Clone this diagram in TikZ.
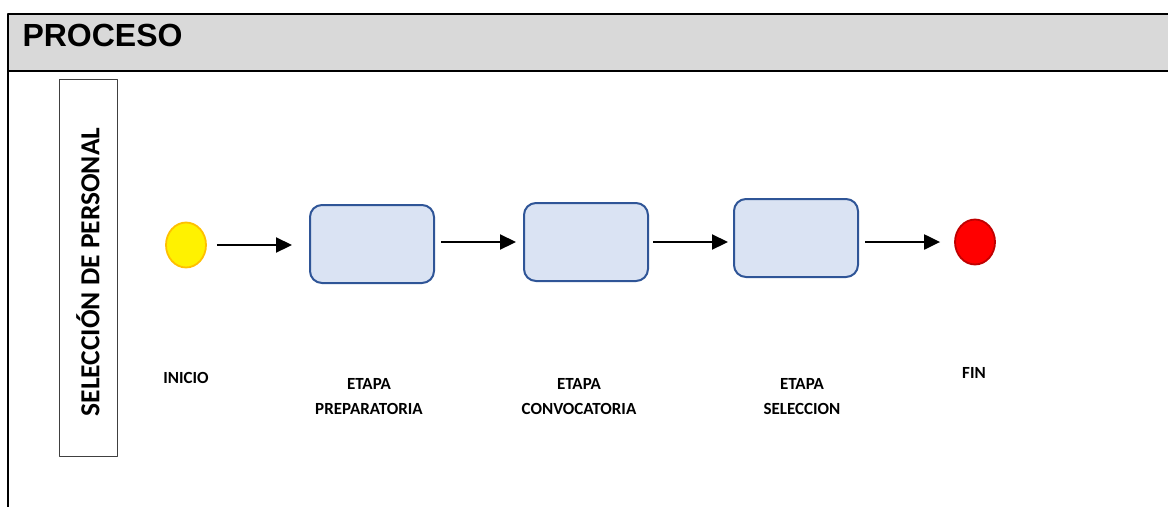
\documentclass[tikz,border=0pt]{standalone}
\usepackage{fontspec}
\setmainfont{Carlito}
\newfontfamily\headfont{Liberation Sans}
\usetikzlibrary{arrows.meta,shapes.geometric}
\definecolor{headgray}{HTML}{D9D9D9}
\definecolor{etapafill}{HTML}{DAE3F3}
\definecolor{etapaline}{HTML}{2F5597}
\definecolor{inicioline}{HTML}{FFC000}
\definecolor{finline}{HTML}{C00000}
\begin{document}
\begin{tikzpicture}[x=1pt,y=-1pt,line join=round,>={Triangle[length=16pt,width=15pt]},
		etapa/.style={draw=etapaline,fill=etapafill,line width=2pt,rounded corners=12pt,minimum width=124pt,minimum height=78pt},
		evento/.style={ellipse,line width=1.8pt,minimum width=40pt,minimum height=45pt,inner sep=0pt},
		rotulo/.style={font=\fontsize{17}{25}\selectfont\bfseries,align=center},
		flow/.style={->,line width=2.2pt}]
		\useasboundingbox (0,0) rectangle (1168,507);
		% marco del proceso
		\fill[headgray] (8,14) rectangle (1168,71);
		\draw[line width=2pt] (1168,14) -- (8,14) -- (8,507);
		\draw[line width=2pt] (8,71) -- (1168,71);
		\node[anchor=west,font=\headfont\fontsize{32}{36}\selectfont\bfseries] (proceso) at (19,35) {PROCESO};
		% carril
		\draw[line width=1pt,black!75] (59,79) rectangle (117,456);
		\node[rotate=90,font=\fontsize{27.5}{30}\selectfont\bfseries] (carril) at (88,272) {SELECCIÓN DE PERSONAL};
		% eventos y etapas
		\node[evento,draw=inicioline,fill=yellow] (ini) at (186,245) {};
		\node[etapa] (e1) at (372,244) {};
		\node[etapa] (e2) at (586,242) {};
		\node[etapa] (e3) at (796,238) {};
		\node[evento,draw=finline,fill=red] (fin) at (975,242) {};
		\draw[flow,shorten <=10pt,shorten >=17pt] (ini.east) -- (ini.east -| e1.west);
		\draw[flow,shorten <=6pt,shorten >=7pt] (e1.east |- e2) -- (e2.west);
		\draw[flow,shorten <=4pt,shorten >=5pt] (e2.east) -- (e2.east -| e3.west);
		\draw[flow,shorten <=6pt,shorten >=14pt] (e3.east |- fin) -- (fin.west);
		% rotulos
		\node[rotulo] (tini) at (186,378) {INICIO};
		\node[rotulo] (te1) at (369,397) {ETAPA\\PREPARATORIA};
		\node[rotulo] (te2) at (579,397) {ETAPA\\CONVOCATORIA};
		\node[rotulo] (te3) at (802,397) {ETAPA\\SELECCION};
		\node[rotulo] (tfin) at (974,373) {FIN};
	\end{tikzpicture}
\end{document}
